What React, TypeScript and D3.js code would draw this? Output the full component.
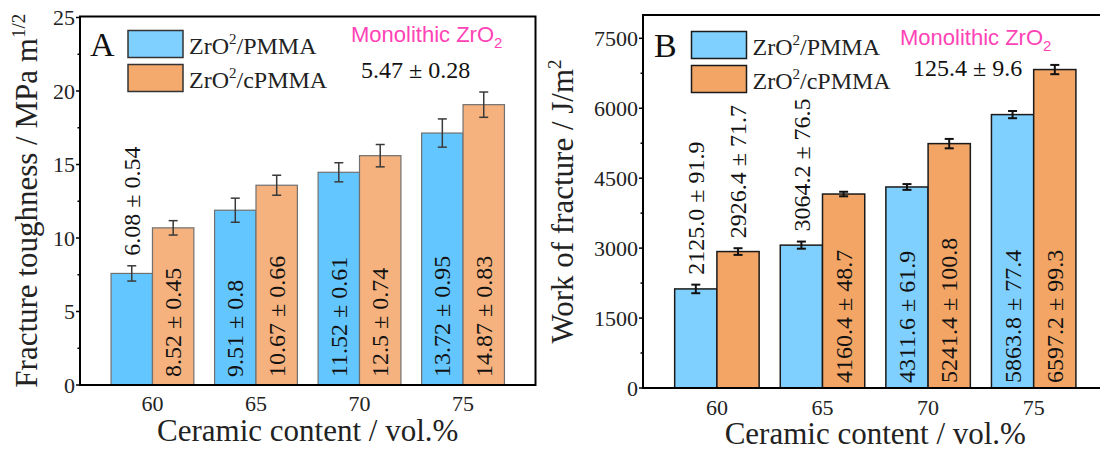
import React from 'react';
import * as d3 from 'd3';

const categories = ['60', '65', '70', '75'];

// A: fracture toughness, MPa m^1/2 (bar heights as drawn)
const toughnessPMMA = [7.59, 11.89, 14.47, 17.14];
const toughnessPMMAErr = [0.52, 0.82, 0.65, 0.96];
const toughnessCPMMA = [10.69, 13.59, 15.6, 19.07];
const toughnessCPMMAErr = [0.49, 0.68, 0.76, 0.86];
const toughnessPMMALabels = ['6.08 ± 0.54', '9.51 ± 0.8', '11.52 ± 0.61', '13.72 ± 0.95'];
const toughnessCPMMALabels = ['8.52 ± 0.45', '10.67 ± 0.66', '12.5 ± 0.74', '14.87 ± 0.83'];
const toughnessTicks = [0, 5, 10, 15, 20, 25];
const toughnessMinor = [2.5, 7.5, 12.5, 17.5, 22.5];
const toughnessMonolithic = '5.47 ± 0.28';

// B: work of fracture, J/m^2
const workPMMA = [2125.0, 3064.2, 4311.6, 5863.8];
const workPMMAErr = [91.9, 76.5, 61.9, 77.4];
const workCPMMA = [2926.4, 4160.4, 5241.4, 6830];
const workCPMMAErr = [71.7, 48.7, 100.8, 99.3];
const workPMMALabels = ['2125.0 ± 91.9', '3064.2 ± 76.5', '4311.6 ± 61.9', '5863.8 ± 77.4'];
const workCPMMALabels = ['2926.4 ± 71.7', '4160.4 ± 48.7', '5241.4 ± 100.8', '6597.2 ± 99.3'];
const workTicks = [0, 1500, 3000, 4500, 6000, 7500];
const workMinor = [750, 2250, 3750, 5250, 6750];
const workMonolithic = '125.4 ± 9.6';

const legendNames = ['PMMA', 'cPMMA'];

const SERIF = "'Liberation Serif', 'Times New Roman', serif";
const SANS = "'Liberation Sans', Arial, sans-serif";
const PINK = '#ff43b6';

// rough Times widths, used to decide if a value label fits inside its bar
const glyphW: Record<string, number> = { '.': 0.25, ' ': 0.25, '±': 0.564 };
const textLen = (s: string, fs: number) =>
  [...s].reduce((w, c) => w + (glyphW[c] ?? 0.5), 0) * fs;

type PanelProps = {
  letter: string;
  left: number;
  right: number;
  top: number;
  bottom: number;
  yMax: number;
  yTop: number;
  ticks: number[];
  minor: number[];
  values: number[][];
  errors: number[][];
  labels: string[][];
  fills: string[];
  barStroke: string;
  barStrokeWidth: number;
  errColor: string;
  errWidth: number;
  legendFills: string[];
  legendStroke: string;
  legendX: number;
  legendY: number;
  letterX: number;
  yTitle: string;
  yTitleSup: string;
  yTitleX: number;
  monoX: number;
  monoY: number;
  mono: string;
  monoValX: number;
  monoValY: number;
  insideInset: number;
  tickLabelGap: number;
  xTitleY: number;
};

function Panel(p: PanelProps) {
  const x = d3.scaleBand<string>().domain(categories).range([p.left, p.right])
    .paddingInner(0.2).paddingOuter(0.3);
  const xs = d3.scaleBand<number>().domain([0, 1]).range([0, x.bandwidth()]);
  const y = d3.scaleLinear().domain([0, p.yMax]).range([p.bottom, p.yTop]);
  const lfs = 24;
  const bw = xs.bandwidth();

  return (
    <g>
      {p.values.map((vals, s) =>
        vals.map((v, i) => (
          <rect key={`b${s}${i}`} x={x(categories[i])! + xs(s)!} y={y(v)} width={bw}
            height={y(0) - y(v)} fill={p.fills[s]} stroke={p.barStroke}
            strokeWidth={p.barStrokeWidth} />
        ))
      )}
      {p.values.map((vals, s) =>
        vals.map((v, i) => {
          const cx = x(categories[i])! + xs(s)! + bw / 2;
          const e = p.errors[s][i];
          return (
            <g key={`e${s}${i}`} stroke={p.errColor} strokeWidth={p.errWidth}>
              <line x1={cx} x2={cx} y1={y(v - e)} y2={y(v + e)} />
              <line x1={cx - 4.5} x2={cx + 4.5} y1={y(v + e)} y2={y(v + e)} />
              <line x1={cx - 4.5} x2={cx + 4.5} y1={y(v - e)} y2={y(v - e)} />
            </g>
          );
        })
      )}
      {p.values.map((vals, s) =>
        vals.map((v, i) => {
          const cx = x(categories[i])! + xs(s)! + bw / 2;
          const lab = p.labels[s][i];
          const len = textLen(lab, lfs);
          const inside = y(0) - y(v) > len + p.insideInset + 8;
          const y0 = inside ? y(0) - p.insideInset : y(v + p.errors[s][i]) - 10;
          return (
            <text key={`l${s}${i}`} transform={`translate(${cx + lfs * 0.34},${y0}) rotate(-90)`}
              fontFamily={SERIF} fontSize={lfs} fill="#111">{lab}</text>
          );
        })
      )}
      <rect x={p.left} y={p.top} width={p.right - p.left} height={p.bottom - p.top}
        fill="none" stroke="#000" strokeWidth={2} />
      {p.ticks.map((t) => (
        <g key={`t${t}`}>
          <line x1={p.left - 4} x2={p.left} y1={y(t)} y2={y(t)} stroke="#000" strokeWidth={1.5} />
          <text x={p.left - 5} y={y(t) + 7.5} textAnchor="end" fontFamily={SERIF}
            fontSize={22} fill="#222">{t}</text>
        </g>
      ))}
      {p.minor.map((t) => (
        <line key={`m${t}`} x1={p.left - 2.5} x2={p.left} y1={y(t)} y2={y(t)}
          stroke="#000" strokeWidth={1.5} />
      ))}
      {categories.map((c) => (
        <text key={`c${c}`} x={x(c)! + x.bandwidth() / 2} y={p.bottom + p.tickLabelGap}
          textAnchor="middle" fontFamily={SERIF} fontSize={22} fill="#222">{c}</text>
      ))}
      <text x={(p.left + p.right) / 2} y={p.xTitleY} textAnchor="middle" fontFamily={SERIF}
        fontSize={31} fill="#222">Ceramic content / vol.%</text>
      <text transform={`translate(${p.yTitleX},${(p.top + p.bottom) / 2}) rotate(-90)`}
        textAnchor="middle" fontFamily={SERIF} fontSize={31} fill="#222">
        {p.yTitle}
        <tspan dy={-12} fontSize={19}>{p.yTitleSup}</tspan>
      </text>
      <text x={p.letterX} y={p.legendY + 25} fontFamily={SERIF} fontSize={34} fill="#111">{p.letter}</text>
      {legendNames.map((n, s) => (
        <g key={`lg${n}`}>
          <rect x={p.legendX} y={p.legendY + s * 34} width={55} height={27}
            fill={p.legendFills[s]} stroke={p.legendStroke} strokeWidth={1.5} />
          <text x={p.legendX + 61} y={p.legendY + s * 34 + 23} fontFamily={SERIF}
            fontSize={24} fill="#222">
            ZrO<tspan dy={-10} fontSize={15}>2</tspan><tspan dy={10}>/{n}</tspan>
          </text>
        </g>
      ))}
      <text x={p.monoX} y={p.monoY} fontFamily={SANS} fontSize={22} fill={PINK}>
        Monolithic ZrO<tspan dy={6} fontSize={15}>2</tspan>
      </text>
      <text x={p.monoValX} y={p.monoValY} fontFamily={SERIF} fontSize={24} fill="#111">{p.mono}</text>
    </g>
  );
}

export default function App() {
  return (
    <svg width={1100} height={452} style={{ position: 'absolute', left: 0, top: 0, background: '#fff' }}>
      <Panel
        letter="A" left={80} right={535.5} top={16.5} bottom={385} yMax={25} yTop={17.5}
        ticks={toughnessTicks} minor={toughnessMinor}
        values={[toughnessPMMA, toughnessCPMMA]} errors={[toughnessPMMAErr, toughnessCPMMAErr]}
        labels={[toughnessPMMALabels, toughnessCPMMALabels]}
        fills={['#64c6fe', '#f5b27e']} barStroke="#707070" barStrokeWidth={1.2}
        errColor="#3a3a3a" errWidth={1.5}
        legendFills={['#7fcfff', '#f4aa6c']} legendStroke="#333" legendX={128} legendY={30.5}
        letterX={90} yTitle="Fracture toughness / MPa m" yTitleSup="1/2" yTitleX={37}
        monoX={351} monoY={42} mono={toughnessMonolithic} monoValX={361} monoValY={78}
        insideInset={8} tickLabelGap={26} xTitleY={441}
      />
      <Panel
        letter="B" left={643} right={1107.6} top={15} bottom={388} yMax={8000} yTop={15}
        ticks={workTicks} minor={workMinor}
        values={[workPMMA, workCPMMA]} errors={[workPMMAErr, workCPMMAErr]}
        labels={[workPMMALabels, workCPMMALabels]}
        fills={['#80d0ff', '#f2a565']} barStroke="#1a1a1a" barStrokeWidth={1.5}
        errColor="#111" errWidth={2}
        legendFills={['#80d0ff', '#f2a565']} legendStroke="#1a1a1a" legendX={691.5} legendY={31.5}
        letterX={654} yTitle="Work of fracture / J/m" yTitleSup="2" yTitleX={573}
        monoX={900} monoY={45} mono={workMonolithic} monoValX={913} monoValY={76}
        insideInset={5} tickLabelGap={27} xTitleY={444}
      />
    </svg>
  );
}
